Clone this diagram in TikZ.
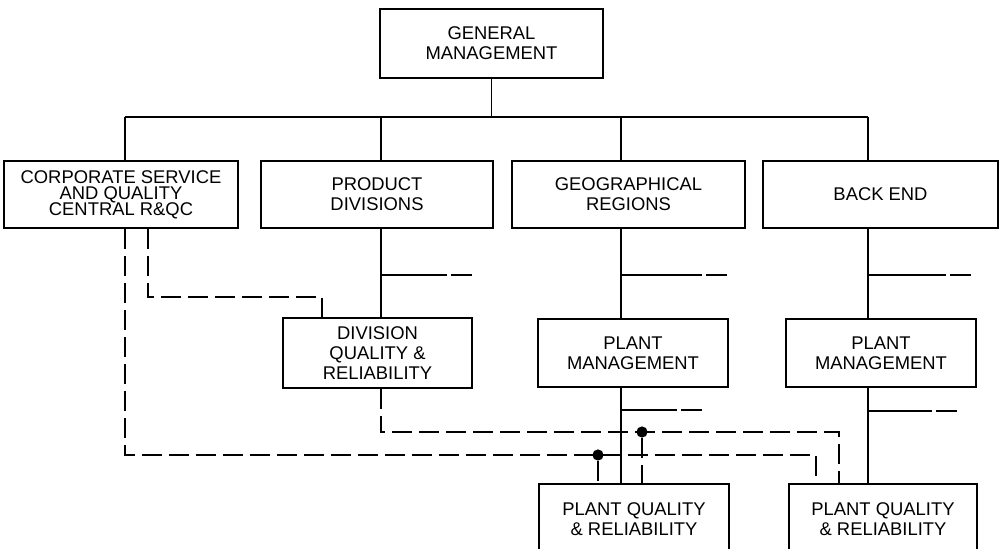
\documentclass[tikz,border=0pt]{standalone}
\usepackage{fontspec}
\setmainfont{Liberation Sans}
\usetikzlibrary{positioning}
\newcommand\tightlines{\lineskiplimit=-10pt\relax}

\begin{document}
\begin{tikzpicture}[x=0.5pt, y=-0.5pt,
		box/.style={draw, line width=1.4pt, align=center, inner sep=0pt, font=\fontsize{9.2}{10}\selectfont},
		conn/.style={line width=0.9pt},
		dline/.style={line width=0.9pt, dash pattern=on 10pt off 3.5pt},
		jdot/.style={circle, fill, inner sep=0pt, minimum size=5.6pt}]
		\useasboundingbox (0,0) rectangle (1001,549);
		\clip (0,0) rectangle (1001,549);
		% boxes
		\node[box, minimum width=111.5pt, minimum height=34.5pt] (gm) at (491.5,43.5) {GENERAL\\MANAGEMENT};
		\node[box, minimum width=117pt, minimum height=33.5pt, font={\fontsize{9.2}{8}\selectfont\tightlines}] (corp) at (121,194.5) {CORPORATE SERVICE\\AND QUALITY\\CENTRAL R\&QC};
		\node[box, minimum width=116pt, minimum height=33.5pt] (prod) at (377,194.5) {PRODUCT\\DIVISIONS};
		\node[box, minimum width=116.5pt, minimum height=33.5pt] (geo) at (628.5,194.5) {GEOGRAPHICAL\\REGIONS};
		\node[box, minimum width=117.5pt, minimum height=33.5pt] (back) at (880.5,194.5) {BACK END};
		\node[box, minimum width=94.5pt, minimum height=35pt] (div) at (377.5,353) {DIVISION\\QUALITY \&\\RELIABILITY};
		\node[box, minimum width=95pt, minimum height=34pt] (pmg) at (633,353) {PLANT\\MANAGEMENT};
		\node[box, minimum width=95pt, minimum height=34pt] (pmb) at (881,353) {PLANT\\MANAGEMENT};
		\node[box, minimum width=95pt, minimum height=35pt] (pqg) at (634,519) {PLANT QUALITY\\\& RELIABILITY};
		\node[box, minimum width=94pt, minimum height=35pt] (pqb) at (883,519) {PLANT QUALITY\\\& RELIABILITY};
		% solid lines
		\coordinate (tC) at (125,117);
		\coordinate (tP) at (381,117);
		\coordinate (tG) at (621,117);
		\coordinate (tB) at (868,117);
		\draw[conn] (gm.south) -- (gm.south |- tC);
		\draw[conn] (tC) -- (tB);
		\foreach \t/\n in {tC/corp, tP/prod, tG/geo, tB/back}
			\draw[conn] (\t) -- (\n.north -| \t);
		\draw[conn] (prod.south -| tP) -- (div.north -| tP);
		\draw[conn] (geo.south -| tG) -- (pmg.north -| tG);
		\draw[conn] (pmg.south -| tG) -- (pqg.north -| tG);
		\draw[conn] (back.south -| tB) -- (pmb.north -| tB);
		\draw[conn] (pmb.south -| tB) -- (pqb.north -| tB);
		\foreach \t/\yy/\len in {tP/275/66, tG/275/81, tB/275/78, tG/410/56, tB/411/64}
			\draw[conn] (\t |- 0,\yy) -- ++(\len,0) ++(4,0) -- ++(21,0);
		% dashed lines
		\node[jdot] (j1) at (598,455) {};
		\node[jdot] (j2) at (642,432) {};
		\draw[dline] (corp.south -| tC) |- (816,455) -- (pqb.north -| 816,0);
		\draw[dline] (corp.south -| 148,0) |- (322,297) -- (div.north -| 322,0);
		\draw[dline] (div.south -| tP) |- (839,432) -- (pqb.north -| 839,0);
		\draw[dline] (j1) -- (pqg.north -| j1);
		\draw[dline] (j2) -- (pqg.north -| j2);
	\end{tikzpicture}
\end{document}
